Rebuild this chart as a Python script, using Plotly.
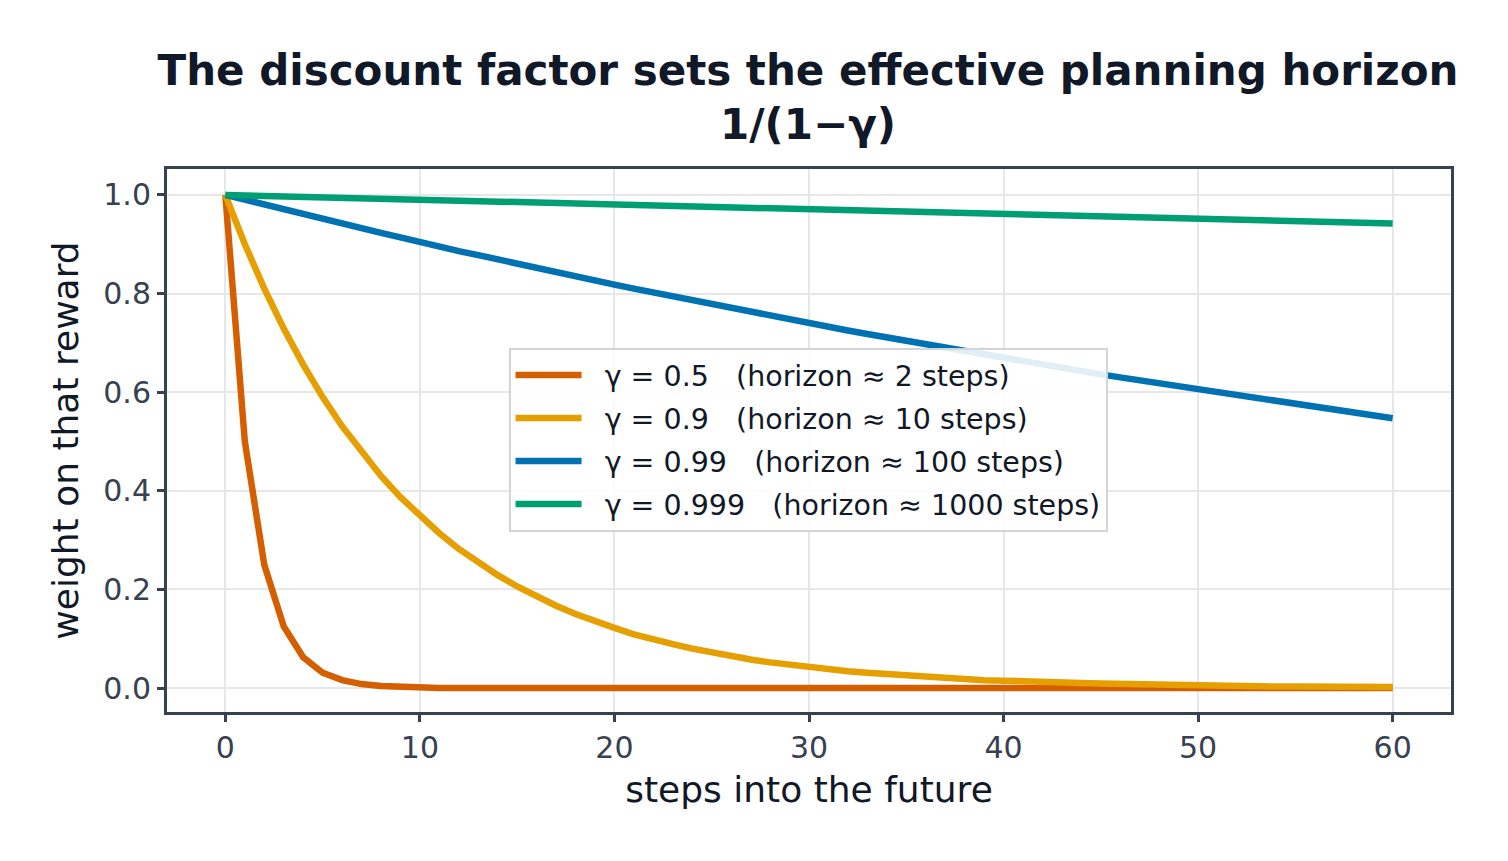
import plotly.graph_objects as go

# steps into the future
steps = list(range(0, 61))

# weights
w_050 = [1.0, 0.5, 0.25, 0.125, 0.0625, 0.031, 0.016, 0.008, 0.004, 0.002, 0.001] + [0.0] * 50

w_090 = [1.000, 0.900, 0.810, 0.729, 0.656, 0.590, 0.531, 0.478, 0.430, 0.387,
         0.349, 0.314, 0.282, 0.254, 0.229, 0.206, 0.185, 0.167, 0.150, 0.135,
         0.122, 0.109, 0.098, 0.089, 0.080, 0.072, 0.065, 0.058, 0.052, 0.047,
         0.042, 0.038, 0.034, 0.031, 0.028, 0.025, 0.023, 0.020, 0.018, 0.016,
         0.015, 0.013, 0.012, 0.011, 0.010, 0.009, 0.008, 0.007, 0.006, 0.006,
         0.005, 0.005, 0.004, 0.004, 0.003, 0.003, 0.003, 0.002, 0.002, 0.002,
         0.002]

w_099 = [1.000, 0.990, 0.980, 0.970, 0.961, 0.951, 0.941, 0.932, 0.923, 0.914,
         0.904, 0.895, 0.886, 0.878, 0.869, 0.860, 0.851, 0.843, 0.835, 0.826,
         0.818, 0.810, 0.802, 0.794, 0.786, 0.778, 0.770, 0.762, 0.755, 0.747,
         0.740, 0.732, 0.725, 0.718, 0.711, 0.703, 0.696, 0.689, 0.683, 0.676,
         0.669, 0.662, 0.656, 0.649, 0.643, 0.636, 0.630, 0.624, 0.617, 0.611,
         0.605, 0.599, 0.593, 0.587, 0.581, 0.575, 0.570, 0.564, 0.558, 0.553,
         0.547]

w_0999 = [1.000, 0.999, 0.998, 0.997, 0.996, 0.995, 0.994, 0.993, 0.992, 0.991,
          0.990, 0.989, 0.988, 0.987, 0.986, 0.985, 0.984, 0.983, 0.982, 0.981,
          0.980, 0.979, 0.978, 0.977, 0.976, 0.975, 0.974, 0.973, 0.972, 0.971,
          0.970, 0.969, 0.968, 0.968, 0.967, 0.966, 0.965, 0.964, 0.963, 0.962,
          0.961, 0.960, 0.959, 0.958, 0.957, 0.956, 0.955, 0.954, 0.953, 0.952,
          0.951, 0.950, 0.949, 0.948, 0.947, 0.947, 0.946, 0.945, 0.944, 0.943,
          0.942]

labels = [
    "γ = 0.5   (horizon ≈ 2 steps)",
    "γ = 0.9   (horizon ≈ 10 steps)",
    "γ = 0.99   (horizon ≈ 100 steps)",
    "γ = 0.999   (horizon ≈ 1000 steps)",
]
series = [w_050, w_090, w_099, w_0999]
colors = ["#D55E00", "#E69F00", "#0072B2", "#009E73"]

FONT = "DejaVu Sans"
INK = "#374151"
DARK = "#111827"

fig = go.Figure()
for i, (ys, name, c) in enumerate(zip(series, labels, colors)):
    # leading spaces push the label away from the legend swatch
    fig.add_trace(go.Scatter(x=steps, y=ys, mode="lines", name="  " + name,
                             legendgroup=f"g{i}",
                             line=dict(color=c, width=6.5)))

axis_common = dict(
    showgrid=True, gridcolor="#e5e7eb", gridwidth=2,
    zeroline=False, showline=True, linecolor=INK, linewidth=3, mirror=True,
    ticks="outside", ticklen=7, tickwidth=3, tickcolor=INK,
    tickfont=dict(size=30, color=INK),
)

fig.update_layout(
    width=1508, height=861,
    paper_bgcolor="white", plot_bgcolor="white",
    margin=dict(l=159, r=65, t=161, b=157),
    font=dict(family=FONT, color=INK),
    title=dict(
        text="<b>The discount factor sets the effective planning horizon<br>1/(1−γ)</b>",
        font=dict(family=FONT, size=42, color=DARK),
        x=0.5305, xanchor="center", y=0.911, yanchor="top",
    ),
    xaxis=dict(
        range=[-3, 63], tickvals=[0, 10, 20, 30, 40, 50, 60],
        title=dict(text="steps into the future", font=dict(size=36, color=DARK), standoff=13),
        **axis_common,
    ),
    yaxis=dict(
        range=[-0.0486, 1.0526], tickvals=[0.0, 0.2, 0.4, 0.6, 0.8, 1.0],
        tickformat=".1f",
        title=dict(text="weight on that reward", font=dict(size=36, color=DARK), standoff=14),
        **axis_common,
    ),
    legend=dict(
        x=0.266, y=0.6705, xanchor="left", yanchor="top",
        bgcolor="rgba(255,255,255,0.88)", bordercolor="#d1d5db", borderwidth=2,
        font=dict(size=28.5, color=DARK),
        itemwidth=66, tracegroupgap=3,
    ),
    showlegend=True,
)

fig.write_html("out.html")
